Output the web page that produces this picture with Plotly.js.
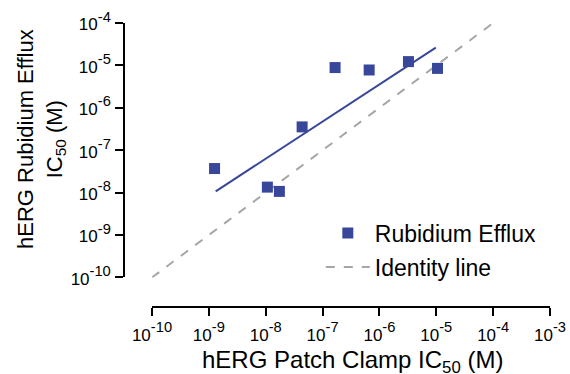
<!DOCTYPE html>
<html>
<head>
<meta charset="utf-8">
<script src="https://cdn.plot.ly/plotly-3.0.1.min.js"></script>
<style>html,body{margin:0;padding:0;background:#fff;}#chart{width:570px;height:374px;}</style>
</head>
<body>
<div id="chart"></div>
<script>
// hERG Patch Clamp IC50 (M) vs hERG Rubidium Efflux IC50 (M)
const patchClamp = [1.26e-9, 1.07e-8, 1.74e-8, 4.37e-8, 1.66e-7, 6.6e-7, 3.24e-6, 1.05e-5];
const rubidiumEfflux = [3.7e-8, 1.35e-8, 1.07e-8, 3.55e-7, 8.9e-6, 7.8e-6, 1.23e-5, 8.5e-6];
const fitX = [1.32e-9, 9.8e-6];
const fitY = [1.07e-8, 2.63e-5];
const identityX = [1e-10, 1e-4];
const identityY = [1e-10, 1e-4];
const xExponents = ["-10", "-9", "-8", "-7", "-6", "-5", "-4", "-3"];
const yExponents = ["-10", "-9", "-8", "-7", "-6", "-5", "-4"];
const xTickVals = [1e-10, 1e-9, 1e-8, 1e-7, 1e-6, 1e-5, 1e-4, 1e-3];
const yTickVals = [1e-10, 1e-9, 1e-8, 1e-7, 1e-6, 1e-5, 1e-4];

const sup = e => "<span style='font-size:17px'>10</span><sup>" + e + "</sup>";
const xTickText = xExponents.map(sup);
const yTickText = yExponents.map(sup);

const FONT = "Arial, 'Liberation Sans', sans-serif";
const BLUE = "#39479b";

const traces = [
  {x: identityX, y: identityY, mode: "lines", name: "Identity line",
   line: {color: "#a6a6a6", width: 2, dash: "dash"}, legend: "legend2", showlegend: true},
  {x: fitX, y: fitY, mode: "lines", name: "fit",
   line: {color: BLUE, width: 2}, showlegend: false},
  {x: patchClamp, y: rubidiumEfflux, mode: "markers", name: "Rubidium Efflux",
   marker: {symbol: "square", size: 11, color: BLUE}, legend: "legend", showlegend: true, cliponaxis: false}
];

const layout = {
  width: 570, height: 374,
  margin: {l: 124, r: 20, t: 23, b: 67},
  paper_bgcolor: "#fff", plot_bgcolor: "#fff",
  font: {family: FONT, color: "#000", size: 16},
  xaxis: {
    type: "log", range: [-10, -3], domain: [0.0657, 1],
    anchor: "free", position: 0,
    showgrid: false, zeroline: false,
    showline: true, linecolor: "#000", linewidth: 2,
    ticks: "outside", ticklen: 8, tickwidth: 2, tickcolor: "#000",
    tickvals: xTickVals, ticktext: xTickText,
    tickfont: {family: FONT, size: 21, color: "#000"},
    title: {text: ""}
  },
  yaxis: {
    type: "log", range: [-10, -4], domain: [0.104, 1],
    anchor: "free", position: 0,
    showgrid: false, zeroline: false,
    showline: true, linecolor: "#000", linewidth: 2,
    ticks: "outside", ticklen: 8, tickwidth: 2, tickcolor: "#000",
    tickvals: yTickVals, ticktext: yTickText,
    tickfont: {family: FONT, size: 21, color: "#000"},
    title: {text: ""}
  },
  annotations: [{
    text: "hERG Rubidium Efflux<br>IC<sub>50</sub> (M)", textangle: -90,
    xref: "paper", yref: "paper", x: (41 - 124) / 426, y: (307 - 139) / 284,
    xanchor: "center", yanchor: "middle", showarrow: false,
    font: {family: FONT, size: 22, color: "#000"}
  }, {
    text: "hERG Patch Clamp IC<sub>50</sub> (M)",
    xref: "paper", yref: "paper", x: (352 - 124) / 426, y: (307 - 344) / 284,
    xanchor: "center", yanchor: "top", showarrow: false,
    font: {family: FONT, size: 24, color: "#000"}
  }],
  legend: {x: 0.462, y: 0.2606, xanchor: "left", yanchor: "middle", bgcolor: "rgba(0,0,0,0)", itemwidth: 44,
           font: {family: FONT, size: 23, color: "#000"}},
  legend2: {x: 0.462, y: 0.1408, xanchor: "left", yanchor: "middle", bgcolor: "rgba(0,0,0,0)", itemwidth: 44,
           font: {family: FONT, size: 23, color: "#000"}},
  showlegend: true
};

Plotly.newPlot("chart", traces, layout, {displayModeBar: false, staticPlot: true});
</script>
</body>
</html>
